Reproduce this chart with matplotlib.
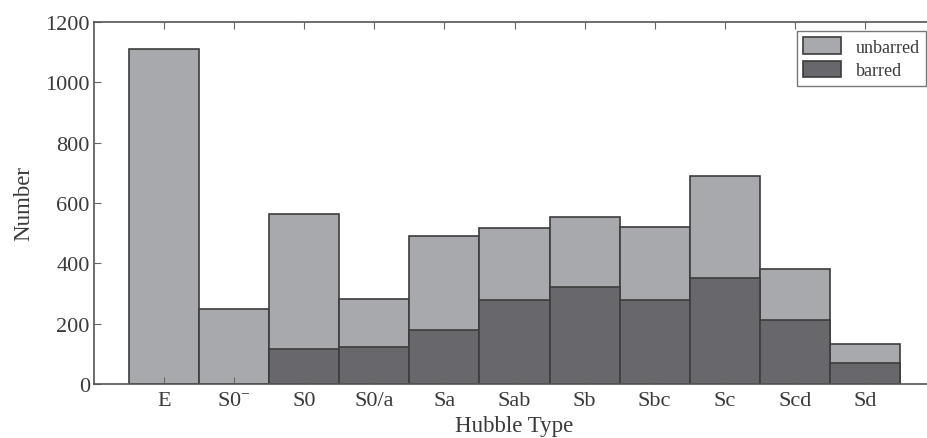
import matplotlib
matplotlib.use('Agg')
import matplotlib.pyplot as plt
import numpy as np

# Hubble type counts
types = ['E', 'S0$^{-}$', 'S0', 'S0/a', 'Sa', 'Sab', 'Sb', 'Sbc', 'Sc', 'Scd', 'Sd']
total = [1112, 248, 563, 282, 490, 517, 553, 522, 689, 381, 134]
barred = [0, 0, 116, 123, 180, 279, 322, 277, 351, 213, 70]

plt.rcParams['font.family'] = ['Liberation Serif', 'DejaVu Serif']
plt.rcParams['mathtext.default'] = 'regular'

fig = plt.figure(figsize=(9.27, 4.39), dpi=100)
ax = fig.add_axes([94 / 927, 54 / 439, 841 / 927, 362 / 439])

x = np.arange(len(types))
light = '#a8a9ac'
dark = '#68676c'
edge = '#3c3c3c'

ax.bar(x, total, width=1.0, color=light, edgecolor=edge, linewidth=1.2, label='unbarred')
ax.bar(x, barred, width=1.0, color=dark, edgecolor=edge, linewidth=1.2, label='barred')

ax.set_xlim(-1, 11)
ax.set_ylim(0, 1200)
ax.set_xticks(x)
ax.set_xticklabels(types)
ax.set_yticks(range(0, 1201, 200))

for s in ax.spines.values():
    s.set_color('#555555')
    s.set_linewidth(1.2)

ax.tick_params(axis='both', direction='in', length=5, width=0.8, color='#666666',
               labelsize=16, labelcolor='#3a3a3a', top=True, right=True)
ax.tick_params(axis='x', pad=5)
ax.tick_params(axis='y', pad=3)

ax.set_xlabel('Hubble Type', fontsize=16.5, color='#3a3a3a', labelpad=4)
ax.set_ylabel('Number', fontsize=16.5, color='#3a3a3a', labelpad=8)

leg = ax.legend(loc='upper right', fontsize=13, frameon=True, fancybox=False,
                edgecolor='#555555', borderaxespad=0.5, handlelength=2.1,
                handleheight=1.0, handletextpad=0.8, borderpad=0.35,
                labelspacing=0.3)
leg.get_frame().set_linewidth(1.0)
for t in leg.get_texts():
    t.set_color('#3a3a3a')

fig.savefig('out.png', dpi=100)
